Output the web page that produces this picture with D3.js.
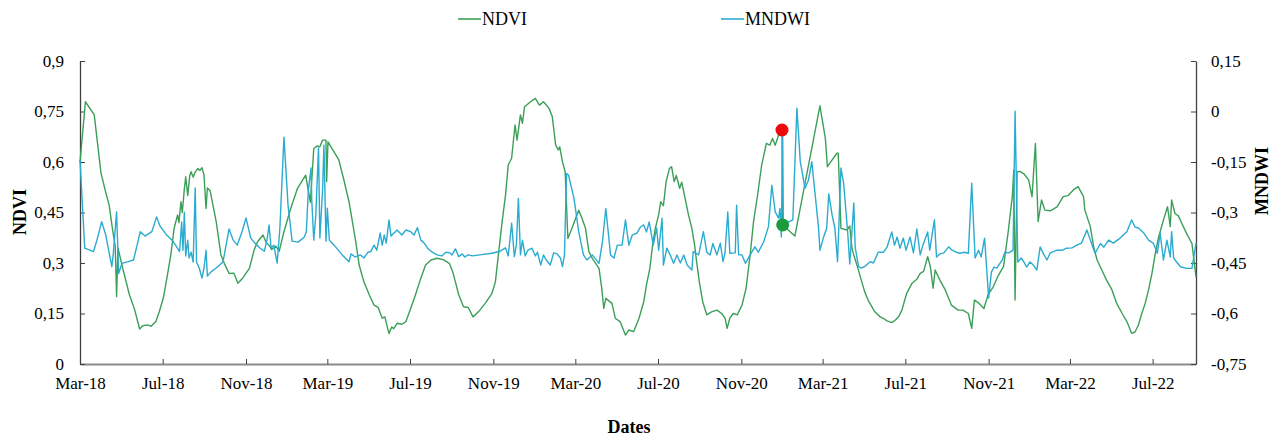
<!DOCTYPE html>
<html>
<head>
<meta charset="utf-8">
<script src="https://cdn.jsdelivr.net/npm/d3@7"></script>
<style>
body { margin: 0; background: #fff; }
text { font-family: "Liberation Serif", "Times New Roman", serif; fill: #000; }
</style>
</head>
<body>
<div id="chart"></div>
<script>
// Size of the picture
var w = 1286;
var h = 437;

// Acquisition dates, stored as days since the first image (1 March 2018)
var firstDate = Date.UTC(2018, 2, 1);

var ndviDays = [0, 8, 21, 31, 38, 43, 48, 52, 54, 56, 63, 73, 80, 88, 93, 100, 105, 112, 117, 123,
	129, 134, 139, 144, 146, 149, 151, 154, 156, 159, 162, 164, 167, 170, 174, 177, 180, 183, 186, 188,
	192, 201, 208, 213, 220, 227, 233, 240, 250, 257, 262, 270, 275, 279, 283, 289, 294, 301, 311, 321,
	333, 340, 345, 350, 354, 358, 363, 364, 366, 372, 382, 390, 397, 402, 407, 412, 419, 427, 434, 440,
	446, 450, 454, 456, 460, 463, 468, 475, 481, 488, 495, 503, 510, 518, 527, 536, 545, 550, 554, 559,
	566, 573, 580, 588, 598, 608, 613, 618, 623, 628, 632, 637, 642, 645, 650, 653, 656, 665, 672, 678,
	684, 692, 697, 702, 706, 708, 712, 716, 720, 726, 736, 741, 746, 751, 756, 766, 770, 773, 776, 785,
	790, 797, 805, 810, 817, 825, 832, 836, 841, 845, 849, 854, 857, 861, 865, 870, 873, 877, 880, 885,
	888, 893, 898, 903, 907, 910, 914, 919, 925, 932, 940, 947, 952, 955, 959, 964, 970, 977, 983, 989,
	994, 1000, 1006, 1013, 1018, 1022, 1026, 1031, 1036, 1037, 1055, 1092, 1100, 1103, 1117, 1119, 1123, 1132, 1136, 1139,
	1141, 1148, 1158, 1163, 1173, 1181, 1186, 1191, 1198, 1203, 1208, 1213, 1220, 1228, 1235, 1240, 1245, 1251, 1255, 1259,
	1262, 1269, 1277, 1286, 1296, 1303, 1311, 1316, 1320, 1327, 1334, 1340, 1348, 1355, 1363, 1370, 1376, 1378, 1380, 1383,
	1387, 1393, 1400, 1405, 1410, 1414, 1419, 1424, 1432, 1442, 1451, 1458, 1466, 1473, 1481, 1483, 1491, 1496, 1501, 1508,
	1515, 1523, 1530, 1538, 1545, 1552, 1557, 1562, 1567, 1572, 1577, 1582, 1587, 1592, 1599, 1605, 1609, 1611, 1616, 1621,
	1626, 1633, 1641, 1647];

var ndviValues = [0.60, 0.779, 0.74, 0.567, 0.51, 0.472, 0.40, 0.35, 0.20, 0.345, 0.285, 0.205, 0.166, 0.104, 0.114, 0.116, 0.112, 0.126, 0.155, 0.196,
	0.264, 0.324, 0.404, 0.443, 0.42, 0.482, 0.45, 0.52, 0.556, 0.50, 0.56, 0.571, 0.555, 0.57, 0.581, 0.575, 0.583, 0.561, 0.462, 0.523,
	0.515, 0.423, 0.324, 0.299, 0.269, 0.27, 0.24, 0.255, 0.284, 0.339, 0.363, 0.383, 0.36, 0.353, 0.34, 0.35, 0.335, 0.393, 0.462, 0.522,
	0.561, 0.48, 0.64, 0.648, 0.645, 0.665, 0.665, 0.542, 0.66, 0.64, 0.606, 0.542, 0.482, 0.423, 0.363, 0.294, 0.244, 0.205, 0.175, 0.168,
	0.136, 0.14, 0.106, 0.091, 0.11, 0.105, 0.121, 0.118, 0.126, 0.165, 0.205, 0.255, 0.294, 0.309, 0.314, 0.31, 0.299, 0.274, 0.244, 0.205,
	0.17, 0.168, 0.14, 0.155, 0.18, 0.21, 0.244, 0.334, 0.423, 0.502, 0.591, 0.611, 0.71, 0.665, 0.74, 0.715, 0.764, 0.779, 0.789, 0.769,
	0.779, 0.76, 0.735, 0.65, 0.636, 0.645, 0.601, 0.571, 0.373, 0.403, 0.457, 0.432, 0.403, 0.334, 0.314, 0.284, 0.225, 0.165, 0.195, 0.18,
	0.136, 0.126, 0.086, 0.101, 0.096, 0.136, 0.185, 0.235, 0.284, 0.353, 0.403, 0.443, 0.482, 0.47, 0.542, 0.581, 0.586, 0.542, 0.56, 0.522,
	0.54, 0.492, 0.443, 0.403, 0.353, 0.304, 0.244, 0.185, 0.146, 0.155, 0.16, 0.15, 0.136, 0.106, 0.136, 0.15, 0.146, 0.175, 0.225, 0.324,
	0.423, 0.502, 0.591, 0.655, 0.65, 0.67, 0.65, 0.68, 0.695, 0.413, 0.38, 0.767, 0.67, 0.586, 0.626, 0.626, 0.403, 0.398, 0.41, 0.348,
	0.33, 0.284, 0.215, 0.19, 0.155, 0.14, 0.135, 0.128, 0.123, 0.13, 0.14, 0.16, 0.21, 0.24, 0.252, 0.269, 0.275, 0.319, 0.289, 0.225,
	0.279, 0.249, 0.22, 0.175, 0.16, 0.16, 0.15, 0.106, 0.19, 0.18, 0.165, 0.205, 0.23, 0.262, 0.29, 0.395, 0.50, 0.576, 0.19, 0.571,
	0.572, 0.565, 0.547, 0.497, 0.655, 0.423, 0.487, 0.457, 0.455, 0.467, 0.497, 0.50, 0.517, 0.527, 0.497, 0.457, 0.408, 0.348, 0.309, 0.279,
	0.249, 0.22, 0.18, 0.15, 0.126, 0.091, 0.095, 0.116, 0.15, 0.18, 0.22, 0.269, 0.329, 0.378, 0.428, 0.467, 0.408, 0.487, 0.447, 0.44,
	0.418, 0.388, 0.358, 0.259];

var mndwiDays = [0, 7, 20, 25, 32, 38, 47, 49, 54, 57, 62, 71, 79, 89, 96, 106, 113, 118, 128, 137,
	142, 147, 150, 152, 154, 156, 159, 161, 164, 167, 170, 172, 176, 180, 183, 186, 188, 193, 201, 211,
	220, 226, 232, 239, 245, 252, 258, 266, 272, 276, 279, 282, 286, 291, 295, 301, 307, 313, 322, 331,
	334, 337, 341, 342, 345, 348, 352, 354, 358, 360, 363, 365, 368, 375, 387, 397, 400, 406, 414, 419,
	425, 429, 434, 438, 443, 446, 449, 452, 456, 459, 465, 468, 475, 481, 488, 493, 498, 503, 508, 513,
	520, 527, 534, 540, 546, 549, 554, 559, 564, 568, 573, 579, 590, 608, 620, 628, 632, 637, 641, 644,
	647, 650, 653, 657, 661, 667, 672, 675, 680, 684, 688, 694, 699, 704, 709, 712, 715, 718, 721, 729,
	736, 743, 748, 756, 766, 771, 776, 783, 788, 793, 800, 805, 810, 815, 822, 827, 832, 836, 840, 846,
	851, 854, 859, 861, 866, 871, 876, 881, 886, 891, 896, 903, 905, 913, 920, 925, 930, 934, 940, 945,
	949, 952, 956, 959, 967, 969, 972, 977, 982, 989, 996, 1001, 1009, 1016, 1021, 1026, 1031, 1033, 1035, 1037,
	1038, 1046, 1052, 1058, 1063, 1070, 1075, 1080, 1085, 1090, 1092, 1097, 1102, 1105, 1110, 1114, 1118, 1123, 1127, 1133,
	1136, 1142, 1144, 1149, 1153, 1159, 1166, 1171, 1178, 1186, 1191, 1198, 1202, 1206, 1210, 1215, 1219, 1225, 1230, 1235,
	1240, 1244, 1251, 1254, 1261, 1264, 1269, 1275, 1282, 1287, 1293, 1299, 1305, 1311, 1316, 1321, 1326, 1330, 1335, 1341,
	1345, 1349, 1353, 1361, 1365, 1371, 1377, 1380, 1384, 1389, 1393, 1397, 1402, 1407, 1412, 1417, 1422, 1427, 1432, 1442,
	1450, 1456, 1464, 1471, 1478, 1486, 1491, 1498, 1506, 1511, 1518, 1525, 1535, 1545, 1552, 1557, 1562, 1570, 1577, 1584,
	1590, 1594, 1599, 1604, 1609, 1611, 1614, 1616, 1624, 1633, 1641, 1647];

var mndwiValues = [-0.144, -0.406, -0.416, -0.382, -0.327, -0.367, -0.461, -0.426, -0.298, -0.481, -0.451, -0.446, -0.441, -0.357, -0.370, -0.357, -0.313, -0.340, -0.367, -0.385,
	-0.400, -0.416, -0.328, -0.412, -0.299, -0.429, -0.382, -0.435, -0.418, -0.447, -0.227, -0.447, -0.465, -0.495, -0.465, -0.412, -0.489, -0.477, -0.465, -0.447,
	-0.349, -0.382, -0.397, -0.358, -0.316, -0.376, -0.391, -0.406, -0.415, -0.382, -0.337, -0.406, -0.397, -0.450, -0.346, -0.076, -0.278, -0.385, -0.388, -0.373,
	-0.358, -0.233, -0.168, -0.263, -0.382, -0.308, -0.108, -0.376, -0.233, -0.100, -0.385, -0.287, -0.382, -0.397, -0.426, -0.446, -0.423, -0.432, -0.426, -0.435,
	-0.418, -0.416, -0.397, -0.412, -0.361, -0.397, -0.367, -0.391, -0.322, -0.370, -0.358, -0.352, -0.367, -0.352, -0.357, -0.367, -0.345, -0.382, -0.391, -0.406,
	-0.418, -0.426, -0.429, -0.418, -0.420, -0.426, -0.408, -0.431, -0.423, -0.432, -0.426, -0.429, -0.426, -0.421, -0.415, -0.405, -0.429, -0.332, -0.431, -0.397,
	-0.258, -0.426, -0.382, -0.429, -0.412, -0.406, -0.429, -0.418, -0.456, -0.426, -0.441, -0.456, -0.420, -0.423, -0.435, -0.461, -0.426, -0.184, -0.189, -0.258,
	-0.357, -0.426, -0.441, -0.426, -0.451, -0.387, -0.288, -0.426, -0.435, -0.397, -0.397, -0.322, -0.397, -0.367, -0.361, -0.343, -0.337, -0.358, -0.328, -0.397,
	-0.346, -0.412, -0.317, -0.456, -0.406, -0.426, -0.451, -0.426, -0.450, -0.426, -0.456, -0.471, -0.416, -0.426, -0.357, -0.418, -0.426, -0.392, -0.426, -0.391,
	-0.446, -0.418, -0.298, -0.421, -0.420, -0.278, -0.426, -0.426, -0.451, -0.426, -0.402, -0.418, -0.387, -0.342, -0.219, -0.298, -0.317, -0.288, -0.373, -0.064,
	-0.337, -0.328, -0.322, 0.010, -0.149, -0.228, -0.204, -0.149, -0.248, -0.347, -0.412, -0.376, -0.346, -0.245, -0.308, -0.346, -0.446, -0.168, -0.213, -0.361,
	-0.453, -0.272, -0.403, -0.461, -0.465, -0.459, -0.446, -0.450, -0.418, -0.418, -0.403, -0.358, -0.397, -0.373, -0.406, -0.376, -0.412, -0.373, -0.420, -0.349,
	-0.426, -0.397, -0.358, -0.412, -0.322, -0.432, -0.423, -0.420, -0.402, -0.412, -0.418, -0.421, -0.418, -0.421, -0.213, -0.435, -0.412, -0.432, -0.376, -0.554,
	-0.477, -0.462, -0.465, -0.441, -0.418, -0.420, -0.412, 0.001, -0.447, -0.435, -0.447, -0.462, -0.447, -0.456, -0.471, -0.402, -0.423, -0.441, -0.420, -0.412,
	-0.412, -0.406, -0.405, -0.397, -0.391, -0.352, -0.382, -0.421, -0.392, -0.403, -0.382, -0.391, -0.376, -0.357, -0.322, -0.343, -0.346, -0.361, -0.382, -0.391,
	-0.421, -0.361, -0.441, -0.382, -0.432, -0.357, -0.435, -0.441, -0.461, -0.466, -0.466, -0.392];

// The two highlighted NDVI acquisitions (before / after the drop)
var markerDays = [1036, 1037];
var markerValues = [0.695, 0.413];

var xTickLabels = ["Mar-18", "Jul-18", "Nov-18", "Mar-19", "Jul-19", "Nov-19", "Mar-20",
	"Jul-20", "Nov-20", "Mar-21", "Jul-21", "Nov-21", "Mar-22", "Jul-22"];
var ndviTicks = [0, 0.15, 0.3, 0.45, 0.6, 0.75, 0.9];
var mndwiTicks = [-0.75, -0.6, -0.45, -0.3, -0.15, 0, 0.15];

// Colours
var ndviColor = "#3b9f58";
var mndwiColor = "#2aabd0";
var markerColors = ["#ee0a0a", "#1d9a3c"];

function dayToDate(d) {
	return d3.utcDay.offset(new Date(firstDate), d);
}

// Plot area (window.top is read-only, hence the prefixed names)
var plotLeft = 80, plotRight = 1196, plotTop = 61, plotBottom = 364;

var x = d3.scaleUtc()
	.domain([dayToDate(0), dayToDate(d3.max(ndviDays))])
	.range([plotLeft, plotRight]);

var yNdvi = d3.scaleLinear().domain([0, 0.9]).range([plotBottom, plotTop]);
var yMndwi = d3.scaleLinear().domain([-0.75, 0.15]).range([plotBottom, plotTop]);

var commaFormat = function(v) { return String(v).replace(".", ","); };
var parseLabel = d3.utcParse("%b-%y");

var svg = d3.select("#chart")
	.append("svg")
	.attr("width", w)
	.attr("height", h);

//Axes (ticks point into the plot as in the original)
var xAxis = d3.axisBottom(x)
	.tickValues(xTickLabels.map(parseLabel))
	.tickFormat(d3.utcFormat("%b-%y"))
	.tickSizeInner(-5)
	.tickSizeOuter(0)
	.tickPadding(13);

var leftAxis = d3.axisLeft(yNdvi)
	.tickValues(ndviTicks)
	.tickFormat(commaFormat)
	.tickSizeInner(-5)
	.tickSizeOuter(0)
	.tickPadding(16);

var rightAxis = d3.axisRight(yMndwi)
	.tickValues(mndwiTicks)
	.tickFormat(commaFormat)
	.tickSizeInner(-5)
	.tickSizeOuter(0)
	.tickPadding(15);

var gx = svg.append("g").attr("transform", "translate(0," + plotBottom + ")").call(xAxis);
var gl = svg.append("g").attr("transform", "translate(" + plotLeft + ",0)").call(leftAxis);
var gr = svg.append("g").attr("transform", "translate(" + plotRight + ",0)").call(rightAxis);

[gx, gl, gr].forEach(function(g) {
	g.selectAll("text")
		.style("font-family", '"Liberation Serif", serif')
		.style("font-size", "17px")
		.attr("fill", "#000");
	g.selectAll("line").attr("stroke", "#404040");
	g.select(".domain").attr("stroke", "#404040").attr("stroke-width", 1.3);
});
gx.select(".domain").attr("stroke", "#8a8a8a").attr("stroke-width", 2.2);

//Series lines
var ndviLine = d3.line()
	.x(function(d) { return x(dayToDate(d[0])); })
	.y(function(d) { return yNdvi(d[1]); });

var mndwiLine = d3.line()
	.x(function(d) { return x(dayToDate(d[0])); })
	.y(function(d) { return yMndwi(d[1]); });

svg.append("path")
	.datum(d3.zip(ndviDays, ndviValues))
	.attr("d", ndviLine)
	.attr("fill", "none")
	.attr("stroke", ndviColor)
	.attr("stroke-width", 1.4)
	.attr("stroke-linejoin", "round");

svg.append("path")
	.datum(d3.zip(mndwiDays, mndwiValues))
	.attr("d", mndwiLine)
	.attr("fill", "none")
	.attr("stroke", mndwiColor)
	.attr("stroke-width", 1.4)
	.attr("stroke-linejoin", "round");

svg.selectAll("circle.marker")
	.data(d3.zip(markerDays, markerValues))
	.enter()
	.append("circle")
	.attr("class", "marker")
	.attr("cx", function(d) { return x(dayToDate(d[0])); })
	.attr("cy", function(d) { return yNdvi(d[1]); })
	.attr("r", 6.5)
	.attr("fill", function(d, i) { return markerColors[i]; });

//Axis titles
svg.append("text")
	.attr("transform", "translate(26,212) rotate(-90)")
	.attr("text-anchor", "middle")
	.style("font-size", "18px")
	.style("font-weight", "bold")
	.text("NDVI");

svg.append("text")
	.attr("transform", "translate(1268,181) rotate(-90)")
	.attr("text-anchor", "middle")
	.style("font-size", "18px")
	.style("font-weight", "bold")
	.text("MNDWI");

svg.append("text")
	.attr("x", 629)
	.attr("y", 433)
	.attr("text-anchor", "middle")
	.style("font-size", "18px")
	.style("font-weight", "bold")
	.text("Dates");

//Legend
var legend = [
	{ name: "NDVI", color: ndviColor, x: 458 },
	{ name: "MNDWI", color: mndwiColor, x: 721 }
];

var items = svg.selectAll("g.legend")
	.data(legend)
	.enter()
	.append("g")
	.attr("class", "legend")
	.attr("transform", function(d) { return "translate(" + d.x + ",19)"; });

items.append("line")
	.attr("x1", 0)
	.attr("x2", 23)
	.attr("stroke", function(d) { return d.color; })
	.attr("stroke-width", 1.6);

items.append("text")
	.attr("x", 24)
	.attr("dy", "0.35em")
	.style("font-size", "18px")
	.text(function(d) { return d.name; });
</script>
</body>
</html>
